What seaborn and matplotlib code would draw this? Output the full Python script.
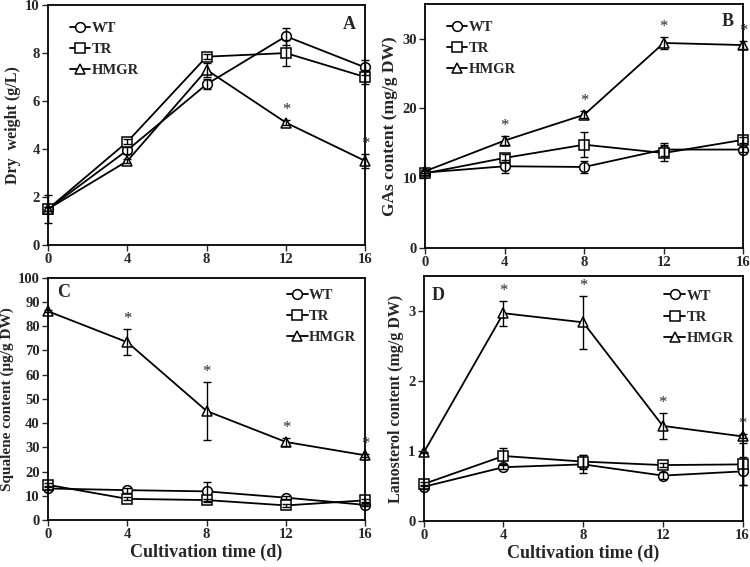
import seaborn as sns
import matplotlib.pyplot as plt

days = [0, 4, 8, 12, 16]
strains = ["WT", "TR", "HMGR"]
markers = {"WT": "o", "TR": "s", "HMGR": "^"}

# A: dry weight (g/L)
dry_mean = {"WT": [1.5, 3.95, 6.7, 8.7, 7.4],
            "TR": [1.5, 4.3, 7.85, 8.0, 7.0],
            "HMGR": [1.5, 3.5, 7.3, 5.1, 3.5]}
dry_err = {"WT": [0.6, 0.15, 0.2, 0.35, 0.3],
           "TR": [0.1, 0.1, 0.1, 0.55, 0.3],
           "HMGR": [0.1, 0.1, 0.3, 0.1, 0.3]}
dry_stars = [12, 16]

# B: GAs content (mg/g DW)
gas_mean = {"WT": [10.8, 11.7, 11.6, 14.1, 14.1],
            "TR": [10.7, 12.9, 14.8, 13.6, 15.5],
            "HMGR": [11.0, 15.4, 19.1, 29.4, 29.1]}
gas_err = {"WT": [0.3, 0.9, 0.9, 0.9, 0.4],
           "TR": [0.3, 0.6, 1.8, 1.2, 0.4],
           "HMGR": [0.2, 0.7, 0.5, 0.9, 0.6]}
gas_stars = [4, 8, 12, 16]

# C: squalene content (ug/g DW)
sq_mean = {"WT": [13.0, 12.3, 11.8, 9.2, 6.2],
           "TR": [14.5, 8.7, 8.2, 6.0, 8.1],
           "HMGR": [86.2, 73.4, 45.0, 32.2, 26.7]}
sq_err = {"WT": [0.6, 1.0, 3.8, 0.6, 0.6],
          "TR": [0.6, 0.6, 0.6, 0.5, 0.5],
          "HMGR": [0.5, 5.3, 12.0, 1.5, 0.5]}
sq_stars = [4, 8, 12, 16]

# D: lanosterol content (mg/g DW)
lan_mean = {"WT": [0.49, 0.77, 0.81, 0.65, 0.71],
            "TR": [0.53, 0.93, 0.85, 0.80, 0.81],
            "HMGR": [0.98, 2.97, 2.84, 1.36, 1.21]}
lan_err = {"WT": [0.03, 0.03, 0.13, 0.05, 0.2],
           "TR": [0.03, 0.12, 0.1, 0.03, 0.3],
           "HMGR": [0.01, 0.18, 0.38, 0.19, 0.03]}
lan_stars = [4, 8, 12, 16]

sns.set_style("ticks")
plt.rcParams["font.family"] = ["Liberation Serif", "DejaVu Serif"]
plt.rcParams["font.weight"] = "bold"
plt.rcParams["axes.labelweight"] = "bold"

fig = plt.figure(figsize=(7.5, 5.67), dpi=100)


def panel(rect, mean, err, stars, ymax, yticks, ylabel, ylabel_size, letter,
          letter_xy, legend_loc, legend_anchor, xlabel=None):
    ax = fig.add_axes(rect)
    for s in strains:
        sns.lineplot(x=days, y=mean[s], marker=markers[s], color="black",
                     markersize=7, markerfacecolor="white",
                     markeredgecolor="black", markeredgewidth=1.1,
                     linewidth=1.3, label=s, clip_on=False, ax=ax)
        eb = ax.errorbar(days, mean[s], yerr=err[s], fmt="none", ecolor="black",
                         elinewidth=1.0, capsize=3, capthick=1.0, zorder=3)
        for part in eb.lines[1] + eb.lines[2]:
            part.set_clip_on(False)
    # significance stars above HMGR
    for d in stars:
        i = days.index(d)
        ax.text(d, mean["HMGR"][i] + err["HMGR"][i] + ymax * 0.008, "*",
                ha="center", va="bottom", fontsize=12, fontweight="normal")
    ax.set_xlim(0, 16)
    ax.set_ylim(0, ymax)
    ax.set_xticks(days)
    ax.set_yticks(yticks)
    ax.tick_params(labelsize=10.5, length=4, width=1.0, direction="out", pad=2)
    for sp in ax.spines.values():
        sp.set_visible(True)
        sp.set_linewidth(1.3)
        sp.set_color("black")
    ax.set_ylabel(ylabel, fontsize=ylabel_size, labelpad=3)
    if xlabel:
        ax.set_xlabel(xlabel, fontsize=13, labelpad=2)
    else:
        ax.set_xlabel("")
    ax.text(letter_xy[0], letter_xy[1], letter, transform=ax.transAxes,
            fontsize=13, fontweight="bold", ha="center", va="center")
    ax.legend(loc=legend_loc, bbox_to_anchor=legend_anchor, frameon=False,
              fontsize=10.5, handlelength=1.4, handletextpad=0.1,
              labelspacing=0.55, borderaxespad=0)
    return ax


panel([0.064, 0.568, 0.423, 0.423], dry_mean, dry_err, dry_stars, 10,
      [0, 2, 4, 6, 8, 10], "Dry  weight (g/L)", 11.5, "A", (0.95, 0.92),
      "upper left", (0.05, 0.955))
panel([0.567, 0.563, 0.424, 0.430], gas_mean, gas_err, gas_stars, 35,
      [0, 10, 20, 30], "GAs content (mg/g DW)", 12.5, "B", (0.95, 0.93),
      "upper left", (0.05, 0.955))
panel([0.064, 0.083, 0.423, 0.427], sq_mean, sq_err, sq_stars, 100,
      list(range(0, 101, 10)), "Squalene content (μg/g DW)", 11, "C",
      (0.05, 0.94), "upper right", (0.99, 0.98), xlabel="Cultivation time (d)")
panel([0.565, 0.081, 0.425, 0.432], lan_mean, lan_err, lan_stars, 3.5,
      [0, 1, 2, 3], "Lanosterol content (mg/g DW)", 11.5, "D", (0.045, 0.92),
      "upper right", (0.99, 0.97), xlabel="Cultivation time (d)")

fig.savefig("out.png", dpi=100)
